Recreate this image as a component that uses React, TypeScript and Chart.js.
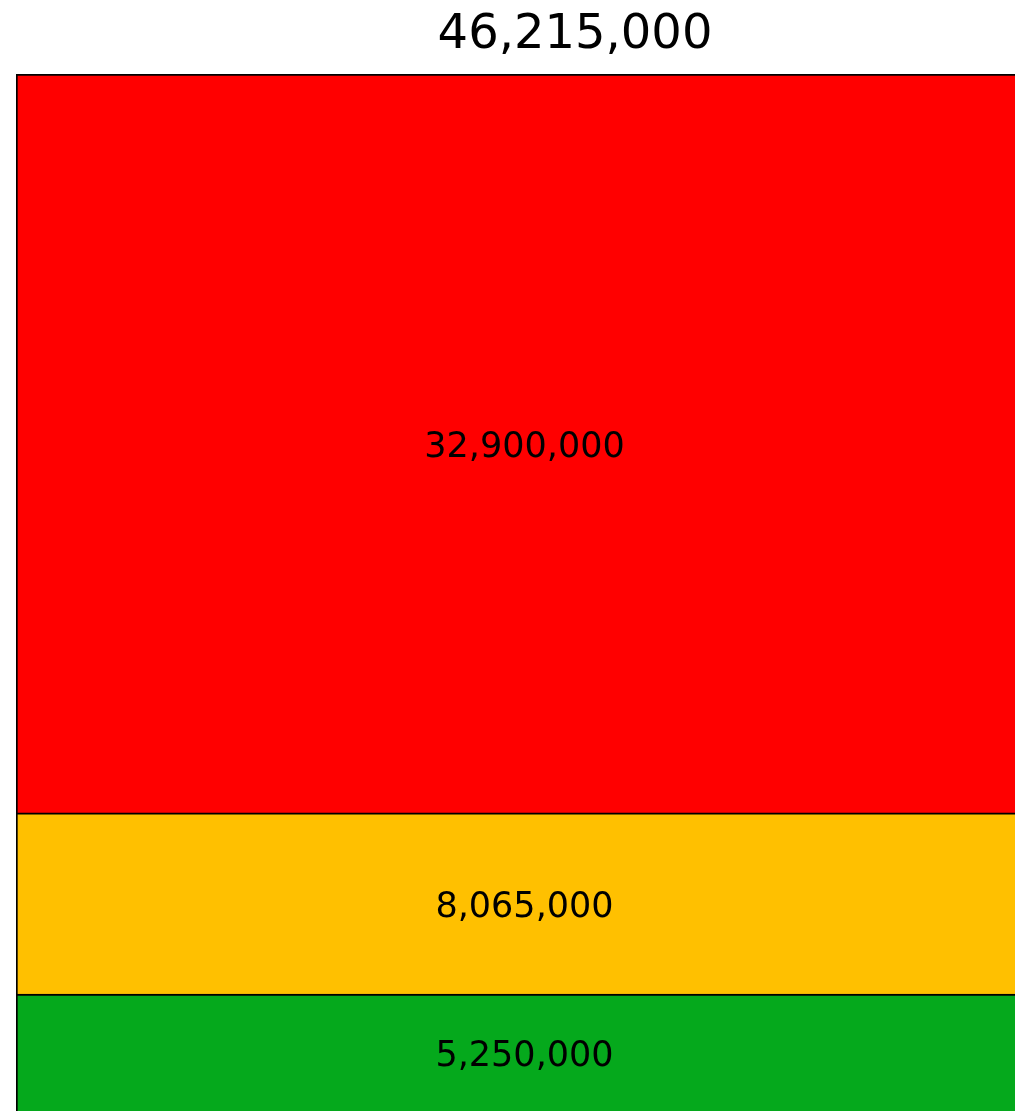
import React, { useEffect, useRef } from "react";
import { Chart, registerables } from "chart.js";

Chart.register(...registerables);

const categories = ["Total"];
const seriesNames = ["Green", "Amber", "Red"];
const seriesValues = [5250000, 8065000, 32900000];
const seriesColors = ["#05A91C", "#FFC000", "#FF0000"];

const fmt = (v: number) => v.toLocaleString("en-US");

const segmentLabels = {
  id: "segmentLabels",
  afterDatasetsDraw(chart: any) {
    const ctx = chart.ctx;
    ctx.save();
    ctx.font = "35px 'DejaVu Sans'";
    ctx.fillStyle = "#000";
    ctx.textAlign = "center";
    ctx.textBaseline = "middle";
    chart.data.datasets.forEach((ds: any, i: number) => {
      const meta = chart.getDatasetMeta(i);
      meta.data.forEach((el: any, j: number) => {
        const v = ds.data[j];
        const y = (el.y + el.base) / 2 + 4;
        ctx.fillText(fmt(v), el.x, y);
      });
    });
    ctx.restore();
  },
};

export default function App() {
  const ref = useRef<HTMLCanvasElement>(null);
  useEffect(() => {
    if (!ref.current) return;
    const total = seriesValues.reduce((a, b) => a + b, 0);
    const chart = new Chart(ref.current, {
      type: "bar",
      data: {
        labels: categories,
        datasets: seriesValues.map((v, i) => ({
          label: seriesNames[i],
          data: [v],
          backgroundColor: seriesColors[i],
          borderColor: "#000",
          borderWidth: 2,
          barPercentage: 1,
          categoryPercentage: 1,
        })),
      },
      options: {
        animation: false,
        responsive: false,
        devicePixelRatio: 1,
        layout: { padding: { left: 8, right: 0, top: 0, bottom: 0 } },
        plugins: {
          legend: { display: false },
          tooltip: { enabled: false },
          title: {
            display: true,
            text: fmt(total),
            color: "#000",
            font: { family: "'DejaVu Sans'", size: 48, weight: "normal", lineHeight: 1 },
            padding: { top: 4, bottom: 14 },
          },
        },
        scales: {
          x: { display: false, stacked: true },
          y: {
            position: "right",
            stacked: true,
            min: 0,
            max: total,
            ticks: { display: false },
            grid: { display: false },
            border: { display: false },
            afterFit: (scale: any) => {
              scale.width = 101;
            },
          },
        },
      },
      plugins: [segmentLabels],
    });
    return () => chart.destroy();
  }, []);
  return (
    <div style={{ position: "absolute", top: 0, left: 0, width: "100vw", height: "100vh", overflow: "hidden" }}>
      <div style={{ position: "absolute", left: 8, top: 8 }}>
        <canvas ref={ref} width={1126} height={1104} style={{ display: "block" }} />
      </div>
    </div>
  );
}
